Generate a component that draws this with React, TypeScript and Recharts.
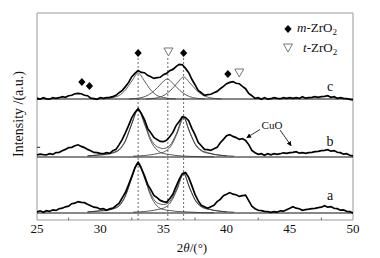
import React from 'react';
import {
  ComposedChart, Line, Scatter, XAxis, YAxis, ReferenceLine, ReferenceArea
} from 'recharts';

// y values are in "pixels above the x axis" units, 0..207
const FONT = '"Liberation Serif", "Times New Roman", serif';

const twoTheta = Array.from({ length: 101 }, (_, i) => 25 + i * 0.25);

// sample a
const intensityA = [
  8, 9.2, 7.8, 9.3, 8.6, 10.2, 9.6, 11.3, 11.8, 13.2, 13.8, 16.3, 16.8, 18.4, 17.6, 17.3, 15.7, 14.3, 12.8, 12.4,
  10.8, 11.3, 9.7, 11.2, 11.8, 14.3, 16.8, 22.3, 27.7, 35.4, 43.6, 52.3, 57.5, 51.6, 44.4, 35.6, 30.4, 24.6, 22.4, 19.6,
  18.4, 17.6, 21.3, 25.7, 33.3, 40.6, 46.4, 47.5, 42.6, 34.4, 25.6, 19.4, 14.6, 13.3, 11.7, 13.3, 14.7, 18.4, 20.6, 24.4,
  25.7, 27.4, 25.8, 25.3, 23.6, 24.4, 24.8, 19.3, 13.7, 11.3, 9.7, 9.3, 8.6, 8.4, 7.7, 8.3, 7.8, 9.2, 8.8, 10.3,
  11.7, 13.3, 11.8, 11.3, 9.7, 10.4, 10.8, 11.4, 11.7, 12.4, 12.8, 14.2, 12.8, 13.3, 11.7, 11.3, 9.8, 10.2, 8.7, 8.3,
  7,
];

// sample b
const intensityB = [
  65, 65.8, 65.4, 65.2, 66.3, 65.6, 67.4, 67.7, 69.3, 70.6, 72.4, 72.7, 74.3, 75.2, 73.6, 72.4, 70.6, 69.3, 67.6, 67.4,
  66.6, 66.3, 67.4, 66.7, 69.3, 70.6, 75.4, 80.6, 87.3, 94.6, 102.4, 107.6, 111.3, 106.6, 100.4, 91.6, 87.3, 82.6, 80.4, 78.6,
  78.3, 79.6, 83.3, 87.6, 94.4, 98.6, 103.3, 102.6, 99.3, 91.7, 85.3, 77.6, 74.3, 70.6, 70.3, 69.7, 71.3, 72.6, 77.3, 80.6,
  84.3, 85.4, 83.6, 82.4, 80.6, 81.4, 79.6, 75.4, 69.6, 67.3, 65.7, 66.3, 64.7, 66.4, 65.2, 66.4, 65.6, 66.3, 67.2, 66.6,
  67.4, 67.7, 68.3, 66.8, 67.4, 66.6, 67.3, 67.6, 68.4, 68.7, 69.4, 69.7, 70.3, 68.8, 69.4, 67.7, 67.3, 65.8, 66.3, 64.8,
  64,
];

// sample c
const intensityC = [
  122, 120.8, 122.3, 121.2, 120.8, 122.4, 121.7, 122.3, 123.4, 122.7, 124.3, 124.7, 126.3, 126.7, 126.3, 124.7, 124.3, 121.8, 121.3, 120.7,
  122.3, 121.6, 122.4, 122.6, 123.4, 124.7, 127.3, 129.6, 133.4, 137.6, 143.3, 146.7, 149.4, 147.6, 147.3, 144.7, 143.3, 141.6, 142.3, 142.7,
  145.3, 146.6, 149.3, 150.6, 153.4, 155.6, 155.3, 151.6, 147.3, 140.7, 135.3, 129.6, 127.3, 124.7, 125.3, 125.7, 127.3, 128.6, 131.3, 133.6,
  136.3, 137.6, 138.4, 136.7, 136.3, 133.6, 131.3, 126.6, 124.3, 121.7, 122.3, 120.7, 122.4, 120.8, 121.3, 122.4, 121.6, 121.3, 122.4, 121.6,
  122.3, 121.7, 122.4, 121.6, 123.3, 121.8, 122.4, 122.7, 123.3, 122.6, 123.4, 123.7, 124.3, 122.7, 123.3, 121.7, 122.3, 121.6, 121.3, 120.7,
  120,
];

const baselines = [7, 63, 121];

// fitted peaks of a and b
const peak33X = [29, 30, 30.5, 31, 31.5, 32, 32.5, 33, 33.5, 34, 34.5, 35, 35.5, 36, 37, 38, 39];
const fitA33 = [8, 9, 9.5, 11, 14, 24, 42, 57, 42, 24, 14, 10.5, 9.5, 8.7, 8, 7.4, 7.2];
const fitB33 = [64, 65, 65.5, 67, 70, 79, 96, 110, 96, 79, 70, 66.5, 65.5, 64.5, 63.7, 63.3, 63.1];

const peak366X = [32.6, 33.6, 34.1, 34.6, 35.1, 35.6, 36.1, 36.6, 37.1, 37.6, 38.1, 38.6, 39.1, 39.6, 40.6];
const fitA366 = [7.8, 8.6, 9.4, 10.6, 12.4, 18, 31, 46, 31, 18, 12.4, 10.6, 9.4, 8.6, 7.8];
const fitB366 = [63.8, 64.6, 65.4, 66.6, 68.4, 74, 87, 102, 87, 74, 68.4, 66.6, 65.4, 64.6, 63.8];

const envelopeX = [29, 30, 31, 31.5, 32, 32.5, 33, 33.5, 34, 34.5, 35, 35.5, 36, 36.6, 37, 37.5, 38, 38.5, 39, 40];
const envelopeA = [8.2, 9.3, 11.5, 14.6, 24.7, 42.8, 58.1, 43.5, 26.2, 17.2, 15.5, 18.5, 29.5, 47.2, 34.8, 20.5, 13.8, 11.4, 9.7, 8.2];
const envelopeB = [64.2, 65.3, 67.5, 70.6, 79.7, 96.8, 111.1, 97.5, 81.2, 73.2, 71.5, 74.5, 85.5, 103.2, 90.8, 76.5, 69.8, 67.4, 65.7, 64.2];

// fitted peaks of c
const fitC33X = [30.5, 31, 31.5, 32, 32.5, 33, 33.5, 34, 34.5, 35, 35.5, 36];
const fitC33 = [121.5, 122.5, 124.5, 130, 139, 147, 139, 130, 124.5, 122.5, 121.5, 121];
const fitC353X = [32.3, 32.8, 33.3, 33.8, 34.3, 34.8, 35.3, 35.8, 36.3, 36.8, 37.3, 37.8, 38.3];
const fitC353 = [121, 121.5, 122.5, 125, 129.5, 136, 141, 136, 129.5, 125, 122.5, 121.5, 121];
const fitC366X = [33.6, 34.1, 34.6, 35.1, 35.6, 36.1, 36.6, 37.1, 37.6, 38.1, 38.6, 39.1, 39.6];
const fitC366 = [121, 121.5, 122.5, 125, 130, 137, 143, 137, 130, 125, 122.5, 121.5, 121];

// phase markers
const mZrO2 = [
  { x: 28.55, y: 138 }, { x: 29.15, y: 134 }, { x: 33.0, y: 167 },
  { x: 36.6, y: 167 }, { x: 40.1, y: 146 },
];
const tZrO2 = [{ x: 35.4, y: 168 }, { x: 41.0, y: 147 }];
const peakLines = [33.0, 35.35, 36.6];

const xTicks = [25, 30, 35, 40, 45, 50];
const minorTicks = [27.5, 32.5, 37.5, 42.5, 47.5];
const yTicks = [72.7, 120.7];

const pts = (xs: number[], ys: number[]) => xs.map((x, i) => ({ x, y: ys[i] }));

const Diamond = (p: any) => {
  const { cx, cy } = p;
  return <path d={`M${cx},${cy - 4} L${cx + 3.6},${cy} L${cx},${cy + 4} L${cx - 3.6},${cy} Z`} fill="#000" />;
};
const Triangle = (p: any) => {
  const { cx, cy } = p;
  return <path d={`M${cx - 4.5},${cy - 4} L${cx + 4.5},${cy - 4} L${cx},${cy + 4} Z`} fill="#fff" stroke="#666" strokeWidth={0.9} />;
};

export default function App() {
  const raw = [intensityA, intensityB, intensityC].map(arr => pts(twoTheta, arr));
  const fits = [
    pts(peak33X, fitA33), pts(peak366X, fitA366), pts(envelopeX, envelopeA),
    pts(peak33X, fitB33), pts(peak366X, fitB366), pts(envelopeX, envelopeB),
    pts(fitC33X, fitC33), pts(fitC353X, fitC353), pts(fitC366X, fitC366),
  ];

  return (
    <div style={{ position: 'absolute', left: 0, top: 0, width: 380, height: 258, background: '#fff', fontFamily: FONT }}>
      <ComposedChart width={380} height={258} margin={{ top: 13, right: 27, bottom: 13, left: 37 }}>
        <XAxis
          type="number"
          dataKey="x"
          domain={[25, 50]}
          ticks={xTicks}
          allowDataOverflow
          height={25}
          axisLine={false}
          tickLine={false}
          tickSize={2}
          tickMargin={2}
          tick={{ fill: '#111', fontSize: 13, fontFamily: 'Liberation Serif' }}
        />
        <YAxis type="number" dataKey="y" domain={[0, 207]} hide allowDataOverflow />
        <ReferenceArea x1={25} x2={50} y1={0} y2={207} fill="none" stroke="#999" strokeWidth={1} />
        {minorTicks.map(t => (
          <ReferenceLine key={t} segment={[{ x: t, y: 0 }, { x: t, y: 2.5 }]} stroke="#444" strokeWidth={0.8} />
        ))}
        {yTicks.map(t => (
          <ReferenceLine key={t} segment={[{ x: 25, y: t }, { x: 25.25, y: t }]} stroke="#222" strokeWidth={1} />
        ))}
        {peakLines.map(p => (
          <ReferenceLine key={p} segment={[{ x: p, y: 0 }, { x: p, y: 163 }]} stroke="#444" strokeWidth={0.8} strokeDasharray="2 2" />
        ))}
        {baselines.map(b => (
          <Line key={b} data={pts([25, 50], [b, b])} dataKey="y" stroke="#111" strokeWidth={1} dot={false} isAnimationActive={false} />
        ))}
        {fits.map((f, i) => (
          <Line key={`fit-${i}`} data={f} dataKey="y" type="monotone" stroke="#333" strokeWidth={0.8} dot={false} isAnimationActive={false} />
        ))}
        {raw.map((r, i) => (
          <Line key={`raw-${i}`} data={r} dataKey="y" type="linear" stroke="#000" strokeWidth={1.7} dot={false} isAnimationActive={false} />
        ))}
        <Scatter data={mZrO2} dataKey="y" shape={Diamond} isAnimationActive={false} />
        <Scatter data={tZrO2} dataKey="y" shape={Triangle} isAnimationActive={false} />
      </ComposedChart>
      <svg width={380} height={258} style={{ position: 'absolute', left: 0, top: 0, pointerEvents: 'none', fontFamily: FONT }}>
        <defs>
          <marker id="ah" markerWidth="6" markerHeight="6" refX="5" refY="3" orient="auto">
            <path d="M0,0 L6,3 L0,6 Z" fill="#000" />
          </marker>
        </defs>
        {/* legend */}
        <path d="M288,25 L291.6,29 L288,33 L284.4,29 Z" fill="#000" />
        <text x={297} y={32} fontSize={13} fill="#111">
          <tspan fontStyle="italic">m</tspan>-ZrO<tspan fontSize={9} dy={3}>2</tspan>
        </text>
        <path d="M283.5,44 L292.5,44 L288,52 Z" fill="#fff" stroke="#666" strokeWidth={0.9} />
        <text x={303} y={51.5} fontSize={13} fill="#111">
          <tspan fontStyle="italic">t</tspan>-ZrO<tspan fontSize={9} dy={3}>2</tspan>
        </text>
        {/* series labels */}
        <text x={330} y={90.5} fontSize={14} textAnchor="middle" fill="#111">c</text>
        <text x={330} y={146} fontSize={14} textAnchor="middle" fill="#111">b</text>
        <text x={330} y={200} fontSize={14} textAnchor="middle" fill="#111">a</text>
        <text x={272} y={128.5} fontSize={11} textAnchor="middle" fill="#111">CuO</text>
        <line x1={260} y1={129.5} x2={247} y2={137.5} stroke="#000" strokeWidth={0.8} markerEnd="url(#ah)" />
        <line x1={280} y1={130} x2={291} y2={145.5} stroke="#000" strokeWidth={0.8} markerEnd="url(#ah)" />
        {/* axis titles */}
        <text x={192} y={252} fontSize={13} textAnchor="middle" fill="#111">
          2<tspan fontStyle="italic">θ</tspan>/(°)
        </text>
        <text x={22.5} y={114} fontSize={14} textAnchor="middle" fill="#111" transform="rotate(-90, 22.5, 114)">
          Intensity /(a.u.)
        </text>
      </svg>
    </div>
  );
}
